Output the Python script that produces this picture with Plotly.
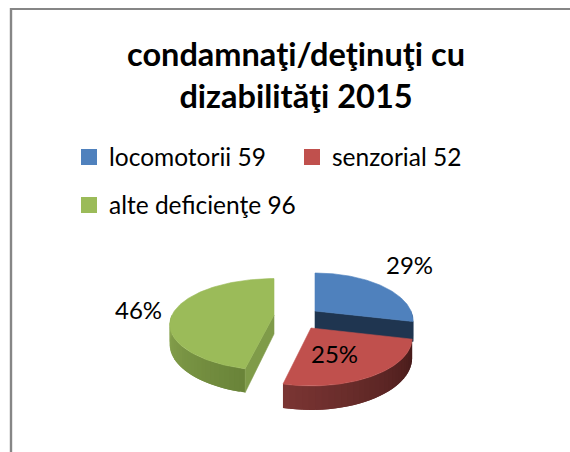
import numpy as np
import plotly.graph_objects as go

# Data
categories = ["locomotorii 59", "senzorial 52", "alte deficienţe 96"]
values = [59, 52, 96]
title_lines = ["condamnaţi/deţinuţi cu", "dizabilităţi 2015"]

# Style / layout
top_colors = ["#4F81BD", "#C0504D", "#9BBB59"]
FONT = "Lato"
W, H = 570, 452
apexes = [(315, 311), (311, 328), (274, 315)]
half_widths = [96.0, 99.0, 102.0]
half_depths = [45.9, 45.9, 44.0]
label_pos = [(409, 264), (334, 353), (138, 309)]
P, DEPTH = 0.208, 19.0


def project(k, theta):
    """Pie angle (clockwise from the back) to the perspective-flattened picture."""
    c, s = np.cos(theta), np.sin(theta)
    f = 1.0 / (1.0 + P * c)
    return apexes[k][0] + half_widths[k] * s * f, apexes[k][1] - half_depths[k] * c * f, DEPTH * f


def poly(xs, ys, color, width=0.6):
    return go.Scatter(x=list(xs), y=list(ys), mode="lines", fill="toself", fillcolor=color,
                      line=dict(color=color, width=width), hoverinfo="skip", showlegend=False)


def mix(c1, c2, t):
    a = [int(c1[i:i + 2], 16) for i in (1, 3, 5)]
    b = [int(c2[i:i + 2], 16) for i in (1, 3, 5)]
    return "#%02x%02x%02x" % tuple(round(a[j] + (b[j] - a[j]) * t) for j in range(3))


def outer_wall(k, t0, t1, c0, c1, n=30):
    out = []
    edges = np.linspace(t0, t1, n + 1)
    for i in range(n):
        # every strip runs under the next one, so no seams show between them
        ts = edges[i:min(i + 3, n + 1)]
        px, py, d = project(k, ts)
        out.append(poly([*px, *px[::-1], px[0]], [*py, *(py + d)[::-1], py[0]],
                        mix(c0, c1, i / (n - 1)), width=0))
    return out


def cut_face(k, t, color):
    x, y, d = project(k, t)
    ax, ay = apexes[k]
    return poly([ax, x, x, ax, ax], [ay, y, y + d, ay + DEPTH, ay], color)


def top_face(k, t0, t1, color):
    ts = np.linspace(t0, t1, 120)
    px, py, _ = project(k, ts)
    ax, ay = apexes[k]
    return poly([ax, *px, ax], [ay, *py, ay], color)


total = sum(values)
angles = np.concatenate([[0], np.cumsum(values)]) / total * 2 * np.pi
fig = go.Figure()

# blue slice
t0, t1 = angles[0], angles[1]
fig.add_traces(outer_wall(0, np.pi / 2, t1, "#1f3550", "#1f3550", 4))
fig.add_trace(cut_face(0, t1, "#1F3550"))
fig.add_trace(top_face(0, t0, t1, top_colors[0]))
# red slice
t0, t1 = angles[1], angles[2]
fig.add_traces(outer_wall(1, t0, t1, "#451a19", "#7a3533"))
fig.add_trace(top_face(1, t0, t1, top_colors[1]))
# green slice
t0, t1 = angles[2], angles[3]
fig.add_traces(outer_wall(2, t0, 1.5 * np.pi, "#6a8439", "#8aa650"))
fig.add_trace(cut_face(2, t0, "#7F9B49"))
fig.add_trace(top_face(2, t0, t1, top_colors[2]))

# Legend entries
legend_refs = ["legend", "legend", "legend2"]
for name, color, ref in zip(categories, top_colors, legend_refs):
    fig.add_trace(go.Scatter(x=[None], y=[None], mode="markers", name=name, legend=ref,
                             marker=dict(symbol="square", size=16, color=color)))

# Percent labels
for v, (lx, ly) in zip(values, label_pos):
    fig.add_annotation(x=lx, y=ly, text=f"{round(100 * v / total)}%", showarrow=False,
                       font=dict(family=FONT, size=24, color="#000000"))

legend_common = dict(orientation="h", xanchor="left", yanchor="middle", bgcolor="rgba(0,0,0,0)",
                     font=dict(family=FONT, size=24.5, color="#000000"), itemsizing="trace",
                     entrywidthmode="pixels", traceorder="normal")

fig.update_layout(
    width=W, height=H, margin=dict(l=0, r=0, t=0, b=0, pad=0),
    paper_bgcolor="white", plot_bgcolor="white",
    xaxis=dict(range=[0, W], visible=False, fixedrange=True, domain=[0, 1]),
    yaxis=dict(range=[H, 0], visible=False, fixedrange=True, domain=[0, 1]),
    title=dict(text="<br>".join(title_lines), x=296 / W, xanchor="center", y=1 - 66 / H, yanchor="middle",
               font=dict(family=FONT, size=32.5, color="#000000", weight="bold")),
    legend=dict(x=69 / W, y=1 - 157 / H, entrywidth=178, **legend_common),
    legend2=dict(x=69 / W, y=1 - 205 / H, entrywidth=260, **legend_common),
    shapes=[
        dict(type="line", xref="paper", yref="paper", x0=11 / W, x1=1, y0=1 - 9 / H, y1=1 - 9 / H,
             line=dict(color="#868686", width=2)),
        dict(type="line", xref="paper", yref="paper", x0=11 / W, x1=11 / W, y0=1 - 8 / H, y1=0,
             line=dict(color="#868686", width=2.4)),
    ],
)

fig.write_html("out.html", config={"displayModeBar": False, "responsive": False},
               post_script="document.body.style.margin='0';document.body.style.overflow='hidden';")
